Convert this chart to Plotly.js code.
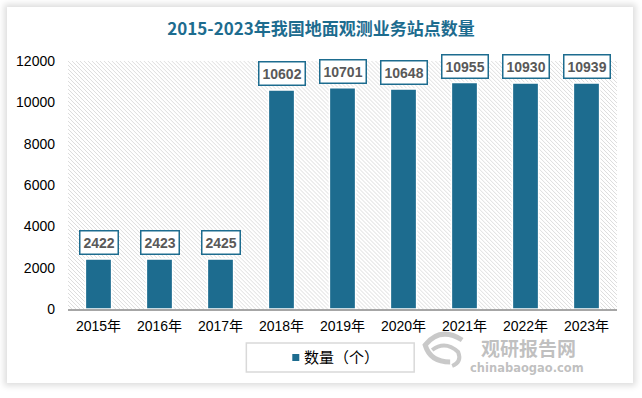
<!DOCTYPE html>
<html>
<head>
<meta charset="utf-8">
<script src="https://cdn.plot.ly/plotly-3.0.1.min.js"></script>
<style>
html,body{margin:0;padding:0;background:#ffffff;width:642px;height:398px;overflow:hidden;}
#card{position:absolute;left:7px;top:7px;width:626px;height:376px;background:#ffffff;box-shadow:0 0 6px 3px rgba(0,0,0,0.13);}
#chart{position:absolute;left:0;top:0;width:642px;height:398px;}
</style>
</head>
<body>
<div id="card"></div>
<div id="chart"></div>
<script>
var categories = ['2015年','2016年','2017年','2018年','2019年','2020年','2021年','2022年','2023年'];
var counts = [2422, 2423, 2425, 10602, 10701, 10648, 10955, 10930, 10939];
var yTicks = [0, 2000, 4000, 6000, 8000, 10000, 12000];
var seriesName = '数量（个）';
var chartTitle = '2015-2023年我国地面观测业务站点数量';

var teal = '#1d6c8f';
var cjk = '"Liberation Sans", "Noto Sans CJK SC", sans-serif';

// page-pixel -> paper helpers (plot area: x 67.5..617, y 61..309)
function px(x) { return (x - 67.5) / 549.5; }
function py(y) { return (309 - y) / 248; }

// hatch background pattern for plot area
var W = 550, H = 248;
var lines = '';
for (var k = -H; k < W + H; k += 4) {
  lines += '<line x1="' + k + '" y1="0" x2="' + (k + H) + '" y2="' + H + '" stroke="#d4d4d4" stroke-width="0.8"/>';
}
var svg = '<svg xmlns="http://www.w3.org/2000/svg" width="' + W + '" height="' + H + '" viewBox="0 0 ' + W + ' ' + H + '" preserveAspectRatio="none"><rect width="100%" height="100%" fill="#ffffff"/>' + lines + '</svg>';
var hatchSrc = 'data:image/svg+xml;charset=utf-8,' + encodeURIComponent(svg);

var trace = {
  type: 'bar',
  x: categories,
  y: counts,
  name: seriesName,
  showlegend: false,
  marker: {color: teal, line: {color: '#ffffff', width: 1.5}},
  hoverinfo: 'x+y'
};

var annotations = counts.map(function (v, i) {
  return {
    x: categories[i], y: v, xref: 'x', yref: 'y',
    text: String(v), showarrow: false,
    yanchor: 'bottom', yshift: 4,
    bgcolor: '#ffffff', bordercolor: teal, borderwidth: 1.5, borderpad: 3,
    font: {family: '"Liberation Sans", sans-serif', size: 14, color: '#595959', weight: 'bold'}
  };
});
// legend text
annotations.push({
  xref: 'paper', yref: 'paper', x: px(302), y: py(357), text: seriesName,
  showarrow: false, xanchor: 'left', yanchor: 'middle',
  font: {family: cjk, size: 15, color: '#000000'}
});
// watermark
annotations.push({
  xref: 'paper', yref: 'paper', x: px(528), y: py(347), text: '观研报告网',
  showarrow: false, xanchor: 'center', yanchor: 'middle',
  font: {family: '"Noto Sans CJK SC", sans-serif', size: 19, color: 'rgba(150,150,150,0.6)', weight: 'bold'}
});
annotations.push({
  xref: 'paper', yref: 'paper', x: px(527), y: py(368), text: 'chinabaogao.com',
  showarrow: false, xanchor: 'center', yanchor: 'middle',
  font: {family: '"DejaVu Sans", sans-serif', size: 11.5, color: 'rgba(150,150,150,0.6)', weight: 'bold'}
});

var layout = {
  width: 642, height: 398,
  margin: {l: 67.5, r: 25, t: 61, b: 89},
  paper_bgcolor: 'rgba(0,0,0,0)',
  plot_bgcolor: 'rgba(0,0,0,0)',
  title: {
    text: chartTitle, x: 0.5, xref: 'container', xanchor: 'center',
    y: 1 - 29 / 398, yref: 'container', yanchor: 'middle',
    font: {family: '"Noto Sans CJK SC", sans-serif', size: 17, color: teal, weight: 'bold'}
  },
  bargap: 0.57,
  showlegend: false,
  xaxis: {
    type: 'category', showgrid: false, zeroline: false,
    showline: true, linecolor: '#a6a6a6', linewidth: 1.5,
    ticks: '', ticklabelstandoff: 4,
    tickfont: {family: cjk, size: 14, color: '#000000'}
  },
  yaxis: {
    range: [0, 12000], tickvals: yTicks, ticktext: yTicks.map(String),
    showgrid: false, zeroline: false, showline: false, ticks: '',
    ticklabelstandoff: 12,
    tickfont: {family: '"Liberation Sans", sans-serif', size: 14, color: '#000000'}
  },
  images: [{
    source: hatchSrc, xref: 'paper', yref: 'paper', x: 0, y: 1,
    sizex: 1, sizey: 1, sizing: 'stretch', xanchor: 'left', yanchor: 'top', layer: 'below'
  }],
  shapes: [
    { // legend box
      type: 'rect', xref: 'paper', yref: 'paper',
      x0: px(246), x1: px(414), y0: py(372), y1: py(343),
      line: {color: '#d9d9d9', width: 1.5}, fillcolor: 'rgba(0,0,0,0)'
    },
    { // legend marker
      type: 'rect', xref: 'paper', yref: 'paper',
      x0: px(292), x1: px(299), y0: py(361), y1: py(354),
      line: {width: 0}, fillcolor: teal
    },
    { // watermark logo swirl
      type: 'path', xref: 'paper', yref: 'paper',
      path: 'M ' + px(462) + ',' + py(340) + ' Q ' + px(440) + ',' + py(326) + ' ' + px(425) + ',' + py(345) +
            ' Q ' + px(430) + ',' + py(362) + ' ' + px(450) + ',' + py(362),
      line: {color: 'rgba(165,165,165,0.6)', width: 5}, fillcolor: 'rgba(0,0,0,0)'
    },
    {
      type: 'path', xref: 'paper', yref: 'paper',
      path: 'M ' + px(432) + ',' + py(350) + ' Q ' + px(445) + ',' + py(340) + ' ' + px(458) + ',' + py(352) +
            ' Q ' + px(462) + ',' + py(362) + ' ' + px(452) + ',' + py(366),
      line: {color: 'rgba(165,165,165,0.6)', width: 4}, fillcolor: 'rgba(0,0,0,0)'
    }
  ],
  annotations: annotations
};

Plotly.newPlot('chart', [trace], layout, {displayModeBar: false, staticPlot: true});
</script>
</body>
</html>
